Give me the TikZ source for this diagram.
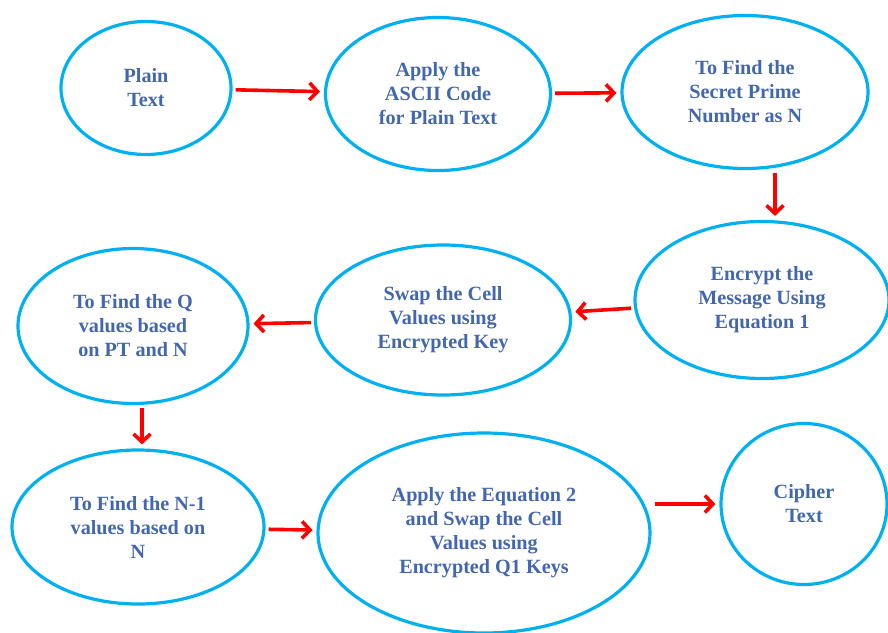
\documentclass[tikz,border=0pt]{standalone}
\usepackage{fontspec}
\setmainfont{Liberation Serif}
\usetikzlibrary{arrows.meta,shapes.geometric}
\definecolor{ringblue}{RGB}{0,176,240}
\definecolor{textblue}{RGB}{66,103,172}
\tikzset{>/.tip={Straight Barb[length=8pt,width=17pt]},
  stage/.style={ellipse, draw=ringblue, line width=3.2pt, inner sep=0pt,
    text=textblue, align=center, font=\bfseries\fontsize{20.2}{24}\selectfont},
  flow/.style={->, draw=red, line width=3.6pt, shorten >=4pt, shorten <=3pt}}

\begin{document}
\begin{tikzpicture}[x=1pt,y=-1pt]
\useasboundingbox (0,0) rectangle (888,632);
\node[stage, minimum width=170pt, minimum height=133pt] (plain) at (146,88)  {Plain\\Text};
\node[stage, minimum width=225pt, minimum height=153pt] (ascii) at (438,94)  {Apply the\\ASCII Code\\for Plain Text};
\node[stage, minimum width=246pt, minimum height=153pt] (prime) at (745,92)  {To Find the\\Secret Prime\\Number as N};
\node[stage, minimum width=254pt, minimum height=157pt] (encrypt) at (762,300)  {Encrypt the\\Message Using\\Equation 1};
\node[stage, minimum width=255pt, minimum height=150pt] (swap) at (443,320)  {Swap the Cell\\Values using\\Encrypted Key};
\node[stage, minimum width=230pt, minimum height=155pt] (qval) at (133,326)  {To Find the Q\\values based\\on PT and N};
\node[stage, minimum width=252pt, minimum height=154pt] (nminus) at (138,527)  {To Find the N-1\\values based on\\N};
\node[stage, minimum width=332pt, minimum height=200pt] (eqtwo) at (484,533)  {Apply the Equation 2\\and Swap the Cell\\Values using\\Encrypted Q1 Keys};
\node[stage, minimum width=166pt, minimum height=161pt] (cipher) at (804,504)  {Cipher\\Text};

\draw[flow] (plain) -- (ascii);
\draw[flow] (ascii) -- (prime);
\draw[flow] ([xshift=30pt]prime.south) -- ([xshift=13pt]encrypt.north);
\draw[flow] (encrypt) -- (swap);
\draw[flow] (swap) -- (qval);
\draw[flow] ([xshift=9pt]qval.south) -- ([xshift=4pt]nminus.north);
\draw[flow] (nminus) -- (eqtwo);
\draw[flow] (eqtwo.east |- cipher.west) -- (cipher);
\end{tikzpicture}
\end{document}
